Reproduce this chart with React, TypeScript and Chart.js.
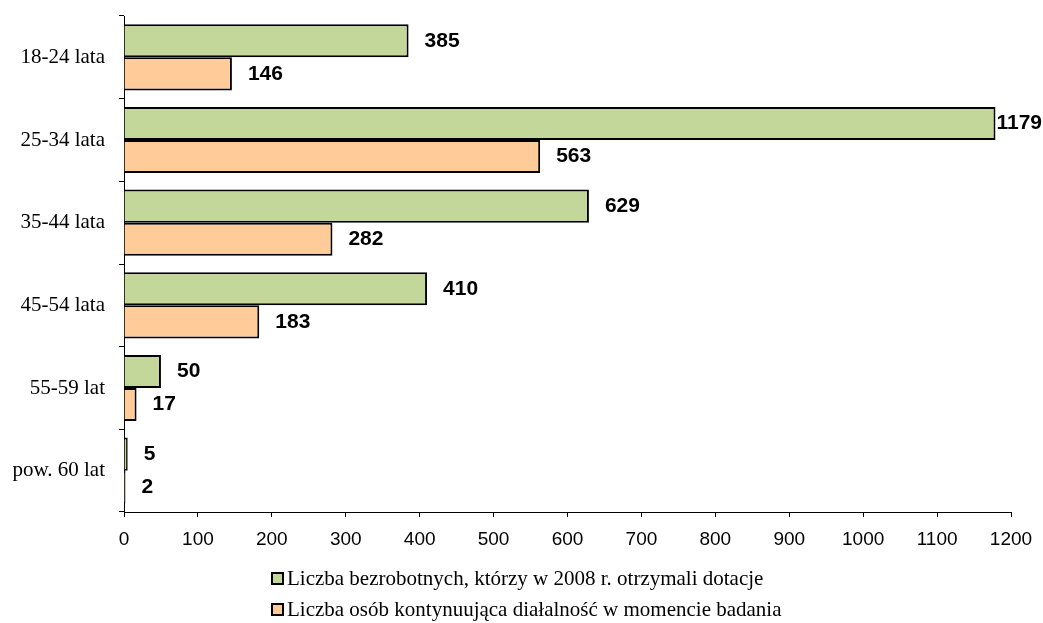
import React, { useRef, useEffect } from 'react';
import Chart from 'chart.js/auto';

const categories = ['18-24 lata', '25-34 lata', '35-44 lata', '45-54 lata', '55-59 lat', 'pow. 60 lat'];
const recipients = [385, 1179, 629, 410, 50, 5];
const continuing = [146, 563, 282, 183, 17, 2];
const seriesNames = [
    'Liczba bezrobotnych, którzy w 2008 r. otrzymali dotacje',
    'Liczba osób kontynuująca diałalność w momencie badania',
];
const colors = ['#C4D79B', '#FFCC99'];

// etykiety wartości przy końcach słupków
const valueLabels = {
    id: 'valueLabels',
    afterDatasetsDraw(chart: any) {
        const ctx = chart.ctx;
        ctx.save();
        ctx.font = 'bold 21px "Liberation Sans", Arial, sans-serif';
        ctx.fillStyle = '#000';
        ctx.textAlign = 'left';
        ctx.textBaseline = 'middle';
        chart.data.datasets.forEach((ds: any, i: number) => {
            const meta = chart.getDatasetMeta(i);
            meta.data.forEach((bar: any, j: number) => {
                const txt = String(ds.data[j]);
                const w = ctx.measureText(txt).width;
                // nie wychodź poza prawą krawędź
                const x = Math.min(bar.x + 16, chart.width - w - 1);
                ctx.fillText(txt, x, bar.y);
            });
        });
        ctx.restore();
    },
};

const noPadding = (scale: any) => {
    scale.paddingTop = 0;
    scale.paddingBottom = 0;
    scale.paddingLeft = 0;
    scale.paddingRight = 0;
};

const App = () => {
    const chartRef = useRef<HTMLCanvasElement>(null);

    useEffect(() => {
        document.body.style.margin = '0';
        if (!chartRef.current) return;
        const myChart = new Chart(chartRef.current, {
            type: 'bar',
            data: {
                labels: categories,
                datasets: [
                    { label: seriesNames[0], data: recipients, backgroundColor: colors[0], borderColor: '#000', borderWidth: 2 },
                    { label: seriesNames[1], data: continuing, backgroundColor: colors[1], borderColor: '#000', borderWidth: 2 },
                ],
            },
            options: {
                indexAxis: 'y',
                animation: false,
                responsive: false,
                devicePixelRatio: 1,
                categoryPercentage: 0.8,
                barPercentage: 1,
                layout: { padding: { top: 16, right: 32, bottom: 71, left: 0 } },
                plugins: {
                    legend: { display: false },
                    tooltip: { enabled: false },
                },
                scales: {
                    x: {
                        min: 0,
                        max: 1200,
                        ticks: {
                            stepSize: 100,
                            color: '#000',
                            padding: 11,
                            callback: (v: any) => String(v),
                            font: { family: '"Liberation Sans", Arial, sans-serif', size: 19 },
                        },
                        grid: { drawOnChartArea: false, tickLength: 5, color: '#000' },
                        border: { color: '#000', width: 1 },
                        afterFit: (scale: any) => { scale.height = 40; noPadding(scale); },
                    },
                    y: {
                        ticks: {
                            color: '#000',
                            padding: 14,
                            font: { family: '"Liberation Serif", "Times New Roman", serif', size: 21 },
                        },
                        grid: { drawOnChartArea: false, tickLength: 5, color: '#000', offset: true },
                        border: { color: '#000', width: 1 },
                        afterFit: (scale: any) => { scale.width = 124; noPadding(scale); },
                    },
                },
            },
            plugins: [valueLabels],
        });
        return () => {
            myChart.destroy();
        };
    }, []);

    const legendFont = '"Liberation Serif", "Times New Roman", serif';
    return (
        <div style={{ position: 'relative', width: 1043, height: 623 }}>
            <canvas ref={chartRef} width={1043} height={623}></canvas>
            <div style={{ position: 'absolute', left: 271, top: 563, fontFamily: legendFont, fontSize: 21, lineHeight: '31px' }}>
                {seriesNames.map((name, i) => (
                    <div key={name} style={{ display: 'flex', alignItems: 'center', whiteSpace: 'nowrap' }}>
                        <span style={{ display: 'inline-block', width: 9, height: 9, background: colors[i], border: '2px solid #000', marginRight: 3 }}></span>
                        {name}
                    </div>
                ))}
            </div>
        </div>
    );
};

export default App;
